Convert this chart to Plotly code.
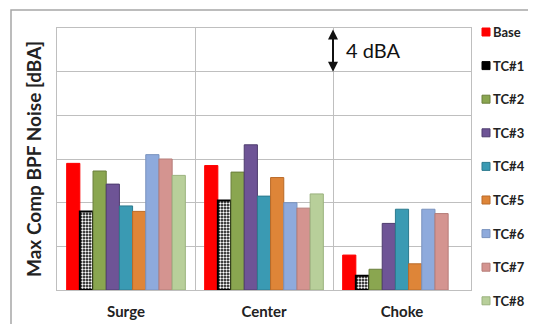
import plotly.graph_objects as go

categories = ["Surge", "Center", "Choke"]
series_names = ["Base", "TC#1", "TC#2", "TC#3", "TC#4", "TC#5", "TC#6", "TC#7", "TC#8"]

base = [11.6, 11.4, 3.2]
tc1 = [7.2, 8.2, 1.3]
tc2 = [10.9, 10.8, 1.9]
tc3 = [9.7, 13.3, 6.1]
tc4 = [7.7, 8.6, 7.4]
tc5 = [7.2, 10.3, 2.4]
tc6 = [12.4, 8.0, 7.4]
tc7 = [12.0, 7.5, 7.0]
tc8 = [10.5, 8.8, None]
series_values = [base, tc1, tc2, tc3, tc4, tc5, tc6, tc7, tc8]

colors = ["#FF0000", "#000000", "#8AA650", "#6E5496", "#3A9AB3",
          "#DE8538", "#8EAADC", "#D49490", "#B8CF9A"]
edges = ["#FF0000", "#000000", "#6A7F3C", "#4E3C6E", "#2C7A8E",
         "#B96A28", "#7A93BE", "#B57C78", "#9AB27E"]

FONT = "Lato"
OFF = 8  # page body margin

W, H = 536 - OFF, 324 - OFF
plot_l, plot_r, plot_t, plot_b = 57 - OFF, 471 - OFF, 28 - OFF, 290 - OFF
plot_w, plot_h = plot_r - plot_l, plot_b - plot_t


def px_x(x):
    return (x - OFF - plot_l) / plot_w


def px_y(y):
    return (plot_b - (y - OFF)) / plot_h


fig = go.Figure()
for i, (name, vals) in enumerate(zip(series_names, series_values)):
    marker = dict(color=colors[i], line=dict(color=edges[i], width=1))
    if name == "TC#1":
        marker = dict(color="#000000", line=dict(color="#000000", width=2),
                      pattern=dict(shape=".", fgcolor="#FFFFFF", bgcolor="#000000",
                                   size=3, solidity=0.5, fillmode="replace"))
    fig.add_trace(go.Bar(x=categories, y=vals, name=name, marker=marker,
                         showlegend=False))

# custom legend (square + bold label)
top_px, step_px = 32, 33.6
shapes = []
annotations = []
for i, name in enumerate(series_names):
    ypx = top_px + i * step_px
    shapes.append(dict(type="rect", xref="paper", yref="paper",
                       x0=px_x(482), x1=px_x(490),
                       y0=px_y(ypx + 4), y1=px_y(ypx - 4), fillcolor=colors[i],
                       line=dict(color=edges[i], width=1), layer="above"))
    annotations.append(dict(xref="paper", yref="paper", x=px_x(491), y=px_y(ypx),
                            xanchor="left", yanchor="middle", showarrow=False,
                            text="<b>%s</b>" % name,
                            font=dict(family=FONT, size=13, color="#222222")))

# outer frame
shapes.append(dict(type="rect", xref="paper", yref="paper",
                   x0=px_x(11), x1=px_x(530), y0=px_y(345), y1=px_y(10),
                   line=dict(color="#A6A6A6", width=1.5), fillcolor="rgba(0,0,0,0)", layer="above"))

# 4 dBA scale arrow
annotations.append(dict(x=1.5, y=20, ax=1.5, ay=24, xref="x", yref="y", axref="x", ayref="y",
                        showarrow=True, arrowhead=2, startarrowhead=2, arrowside="end+start",
                        arrowwidth=2, arrowsize=1, arrowcolor="#111111", text=""))
annotations.append(dict(x=1.5, y=22, xref="x", yref="y", xshift=11, xanchor="left",
                        yanchor="middle", showarrow=False, text="4 dBA",
                        font=dict(family=FONT, size=20, color="#111111")))

fig.update_layout(
    width=W, height=H,
    margin=dict(l=plot_l, r=W - plot_r, t=plot_t, b=H - plot_b, autoexpand=False),
    paper_bgcolor="white", plot_bgcolor="white",
    barmode="group", bargap=0.14, bargroupgap=0,
    shapes=shapes, annotations=annotations,
    font=dict(family=FONT, color="#222222"),
)
fig.update_xaxes(showgrid=True, tickson="boundaries", gridcolor="#BFBFBF", gridwidth=1,
                 showline=True, linecolor="#BFBFBF", mirror=True, ticks="",
                 automargin=False,
                 tickfont=dict(family=FONT, size=15, color="#222222"),
                 ticklabelstandoff=8,
                 tickvals=categories, ticktext=["<b>%s</b>" % c for c in categories])
fig.update_yaxes(range=[0, 24], dtick=4, showgrid=True, gridcolor="#BFBFBF", gridwidth=1,
                 showline=True, linecolor="#BFBFBF", mirror=True, showticklabels=False,
                 ticks="", zeroline=False, automargin=False,
                 title=dict(text="<b>Max Comp BPF Noise [dBA]</b>", standoff=9,
                            font=dict(family=FONT, size=19, color="#222222")))

fig.write_html("out.html")
